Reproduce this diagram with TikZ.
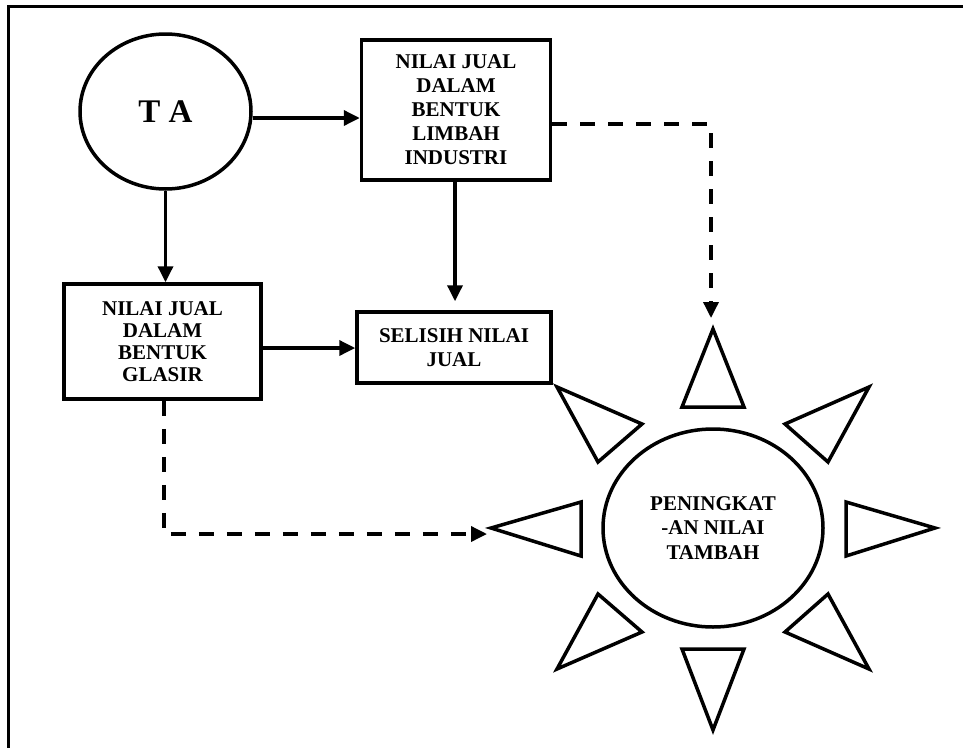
\documentclass[tikz,border=0pt]{standalone}
\usepackage{fontspec}
\setmainfont{Liberation Serif}
\usetikzlibrary{arrows.meta,shapes.geometric}
\begin{document}
\begin{tikzpicture}[x=1pt,y=-1pt,line width=3.5pt,
  boxnode/.style={draw,line width=3.5pt,inner sep=0pt,align=center,
    font=\bfseries\fontsize{21}{24}\selectfont},
  ovalnode/.style={draw,ellipse,line width=3.5pt,inner sep=0pt,align=center},
  arr/.style={-{Triangle[length=16pt,width=15pt]},line width=3.5pt},
  darr/.style={arr,dash pattern=on 15pt off 13pt},
  ray/.style={draw,line width=3.5pt,line join=miter}]
\clip (0,0) rectangle (963,747);
\fill[white] (0,0) rectangle (963,747);
% outer frame (continues beyond the picture)
\draw[line width=3pt] (8,800) -- (8,6) -- (1000,6);
% nodes
\node[ovalnode,minimum width=171pt,minimum height=155pt,
  font=\bfseries\fontsize{33}{36}\selectfont] (ta) at (165.5,111.5) {T A};
\node[boxnode,minimum width=189pt,minimum height=140pt] (limbah) at (456,110)
  {NILAI JUAL\\DALAM\\BENTUK\\LIMBAH\\INDUSTRI};
\node[boxnode,minimum width=197pt,minimum height=115pt,
  font=\bfseries\fontsize{21}{22}\selectfont] (glasir) at (162.5,341.5)
  {NILAI JUAL\\DALAM\\BENTUK\\GLASIR};
\node[boxnode,minimum width=194pt,minimum height=71pt] (selisih) at (454,347.5)
  {SELISIH NILAI\\JUAL};
\node[ovalnode,minimum width=220pt,minimum height=198pt,
  font=\bfseries\fontsize{21}{24.5}\selectfont] (sun) at (713,528)
  {PENINGKAT\\-AN NILAI\\TAMBAH};
% sun rays
\draw[ray] (713,329) -- (682,407) -- (744,407) -- cycle;
\draw[ray] (682,649) -- (744,649) -- (713,730) -- cycle;
\draw[ray] (491,528) -- (581,502) -- (581,556) -- cycle;
\draw[ray] (935,528) -- (846,502) -- (846,556) -- cycle;
\draw[ray] (557,387) -- (642,424) -- (598,462) -- cycle;
\draw[ray] (869,387) -- (785,424) -- (828,462) -- cycle;
\draw[ray] (598,594) -- (642,632) -- (557,669) -- cycle;
\draw[ray] (828,594) -- (785,632) -- (869,669) -- cycle;
% free ends of dashed connectors
\coordinate (dtop) at (711,318);
\coordinate (dleft) at (487,534);
% connectors
\draw[arr] ([yshift=-6.5pt]ta.east) -- ([yshift=-6.5pt]ta.east -| limbah.west);
\draw[arr] (ta.south) -- (ta.south |- glasir.north);
\draw[arr] ([yshift=-6.5pt]glasir.east) -- ([yshift=-6.5pt]glasir.east -| selisih.west);
\draw[arr] ([xshift=-1pt]limbah.south) -- ([xshift=-1pt,yshift=9pt]limbah.south |- selisih.north);
\draw[darr] ([yshift=-14pt]limbah.east) -| (dtop);
\draw[darr] ([xshift=1.5pt]glasir.south) |- (dleft);
\end{tikzpicture}
\end{document}
